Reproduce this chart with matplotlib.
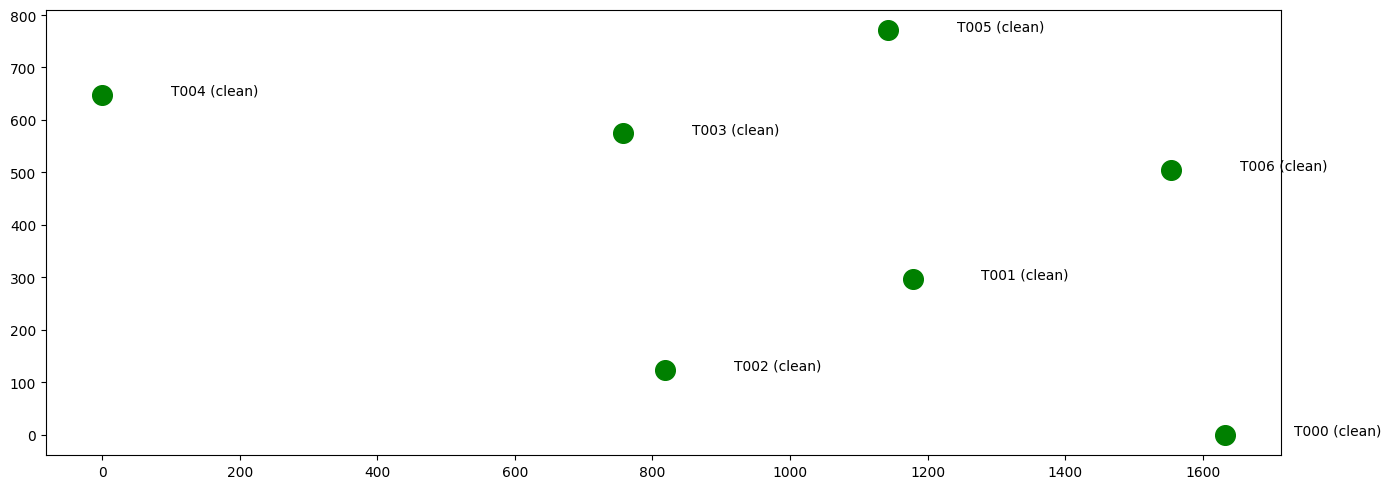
import matplotlib
matplotlib.use("Agg")
import matplotlib.pyplot as plt

# trap positions
names = ["T000", "T001", "T002", "T003", "T004", "T005", "T006"]
status = ["clean"] * 7
xs = [1632, 1178, 818, 757, 0, 1143, 1554]
ys = [0, 297, 124, 575, 648, 771, 505]

fig = plt.figure(figsize=(13.91, 4.89), dpi=100)
ax = fig.add_axes([46 / 1391, 33 / 489, 1235 / 1391, 445 / 489])
ax.scatter(xs, ys, s=200, color="green")
for n, st, x, y in zip(names, status, xs, ys):
    ax.text(x + 100, y, f"{n} ({st})", fontsize=10)

fig.savefig("out.png", dpi=100)
